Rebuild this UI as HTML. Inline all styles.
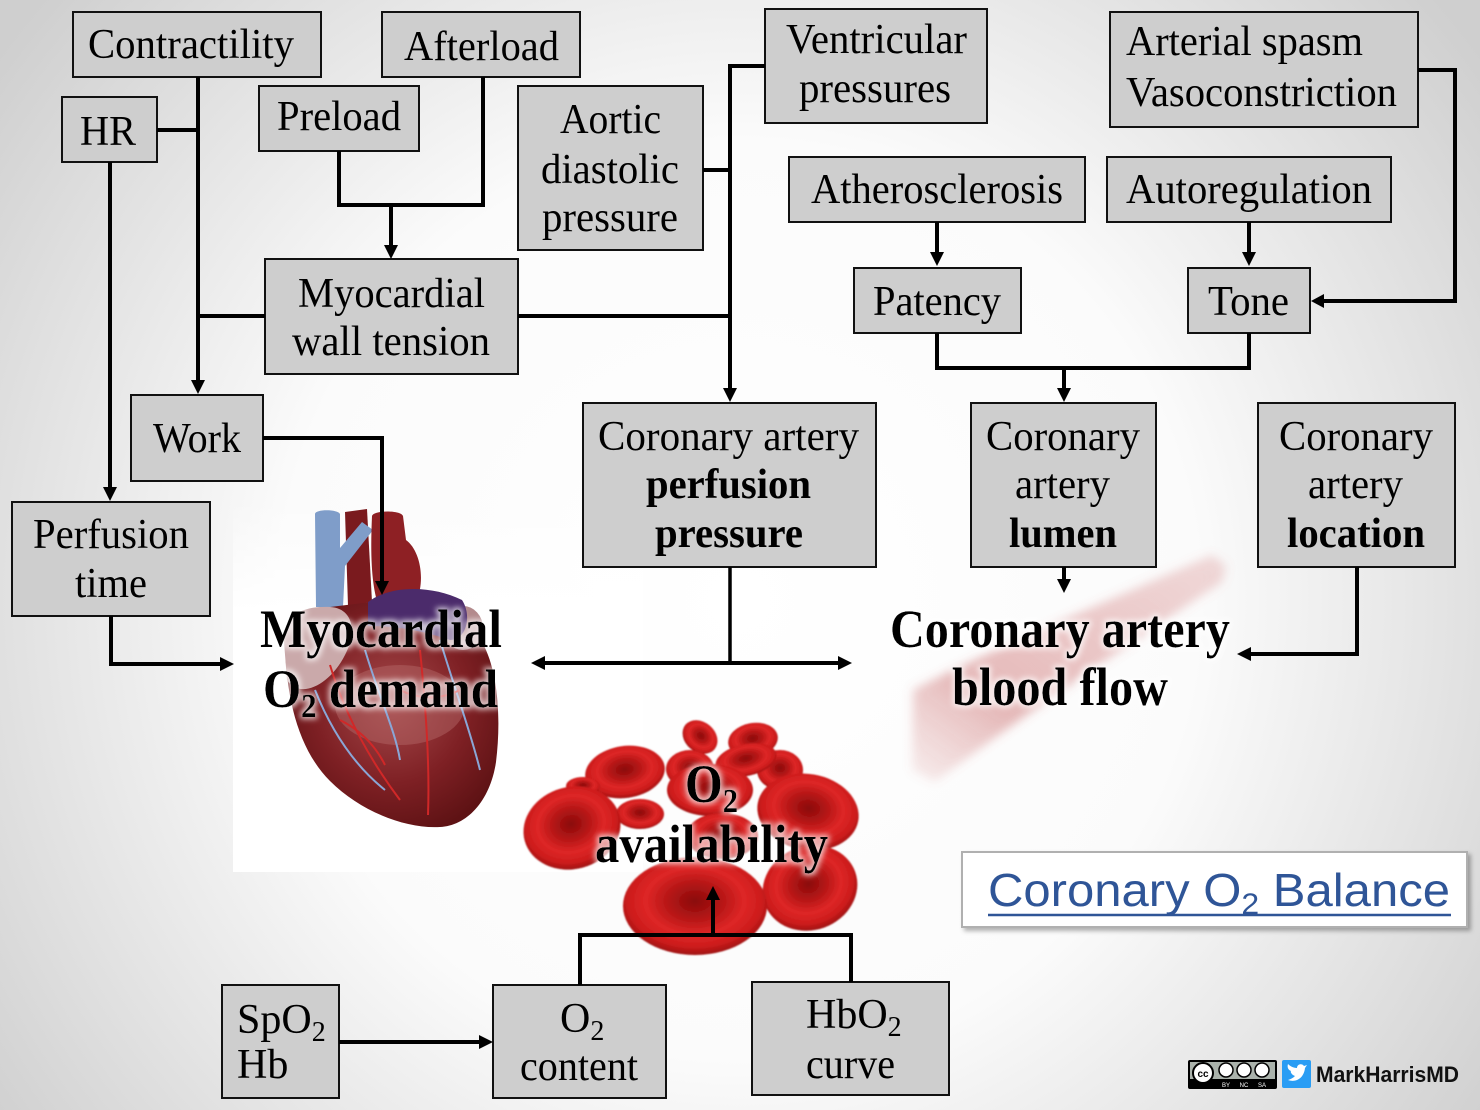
<!DOCTYPE html>
<html><head><meta charset="utf-8"><style>
html,body{margin:0;padding:0;background:#fff;}
svg{display:block;}
.bx{fill:#cecece;stroke:#111;stroke-width:2;}
.t{font-family:"Liberation Serif",serif;font-size:42px;fill:#000;}
.tb{font-family:"Liberation Serif",serif;font-size:42px;font-weight:bold;fill:#000;}
.big{font-family:"Liberation Serif",serif;font-size:54px;font-weight:bold;fill:#000;}
.ln{fill:none;stroke:#000;stroke-width:4;stroke-linejoin:miter;}
</style></head><body>
<svg width="1480" height="1110" viewBox="0 0 1480 1110" xmlns="http://www.w3.org/2000/svg">
<defs>
<radialGradient id="bg" cx="740" cy="600" r="920" gradientUnits="userSpaceOnUse">
<stop offset="0" stop-color="#ffffff"/><stop offset="0.5" stop-color="#fbfbfb"/><stop offset="1" stop-color="#cfcfcf"/>
</radialGradient>
<radialGradient id="rbc" cx="50%" cy="45%" r="55%">
<stop offset="0" stop-color="#8a0c0c"/><stop offset="0.3" stop-color="#b01414"/><stop offset="0.62" stop-color="#de2626"/><stop offset="0.85" stop-color="#cc1c1c"/><stop offset="1" stop-color="#9e1010"/>
</radialGradient>
<radialGradient id="hrt" cx="50%" cy="45%" r="60%">
<stop offset="0" stop-color="#a64a4c"/><stop offset="0.6" stop-color="#7e2024"/><stop offset="1" stop-color="#5e1214"/>
</radialGradient>
<linearGradient id="art" x1="0" y1="1" x2="1" y2="0">
<stop offset="0" stop-color="#c86a6a" stop-opacity="0.1"/><stop offset="0.3" stop-color="#c45a5a" stop-opacity="0.42"/><stop offset="1" stop-color="#d07070" stop-opacity="0.25"/>
</linearGradient>
<linearGradient id="wfade" x1="0" y1="0" x2="0" y2="1">
<stop offset="0" stop-color="#fff" stop-opacity="0"/><stop offset="0.3" stop-color="#fff" stop-opacity="1"/><stop offset="1" stop-color="#fff" stop-opacity="1"/>
</linearGradient>
<filter id="blur4"><feGaussianBlur stdDeviation="5"/></filter>
<filter id="blur1"><feGaussianBlur stdDeviation="0.8"/></filter>
<filter id="glow" x="-10%" y="-30%" width="120%" height="160%">
<feMorphology in="SourceAlpha" operator="dilate" radius="2" result="d"/>
<feGaussianBlur in="d" stdDeviation="3" result="b"/>
<feFlood flood-color="#ffffff" flood-opacity="0.75"/>
<feComposite in2="b" operator="in" result="w"/>
<feMerge><feMergeNode in="w"/><feMergeNode in="SourceGraphic"/></feMerge>
</filter>
<filter id="shd" x="-5%" y="-10%" width="115%" height="130%">
<feGaussianBlur in="SourceAlpha" stdDeviation="2"/><feOffset dx="3" dy="3" result="o"/>
<feFlood flood-color="#000" flood-opacity="0.3"/><feComposite in2="o" operator="in" result="s"/>
<feMerge><feMergeNode in="s"/><feMergeNode in="SourceGraphic"/></feMerge>
</filter>
</defs>

<rect x="0" y="0" width="1480" height="1110" fill="url(#bg)"/>
<rect x="233" y="500" width="410" height="372" fill="url(#wfade)"/>

<!-- artery -->
<g filter="url(#blur4)">
<path d="M1212,555 L1226,566 L1222,582 C1150,630 1060,690 985,745 L935,782 L912,770 L913,690 C990,650 1110,600 1212,555 Z" fill="url(#art)"/>
</g>

<!-- heart -->
<g>
<path d="M345,512 L367,509 L372,602 L348,606 Z" fill="#7a1a1e"/>
<path d="M315,514 C315,509 338,509 340,514 L340,548 L362,522 L373,530 L345,566 L343,607 L316,607 Z" fill="#7f9dc9"/>
<path d="M372,516 C374,510 401,510 403,516 L406,540 C420,550 426,580 416,602 L380,610 C372,590 370,560 372,516 Z" fill="#8e2024"/>
<path d="M285,642 C282,620 300,606 330,607 L380,601 C420,596 462,610 482,642 C499,672 501,722 496,762 C490,802 466,826 440,827 C405,829 360,811 330,781 C300,751 286,702 285,642 Z" fill="url(#hrt)"/>
<path d="M284,642 C284,616 300,606 330,607 C352,608 358,630 345,655 C330,685 300,700 287,680 Z" fill="#caa9aa"/>
<ellipse cx="463" cy="628" rx="20" ry="22" fill="#b38a8c"/>
<path d="M368,602 C390,585 432,585 462,600 C472,615 467,640 450,640 C420,630 396,626 368,626 Z" fill="#4b2b6b"/>
<ellipse cx="400" cy="705" rx="65" ry="40" fill="#b56a6a" opacity="0.45"/>
<g fill="none" stroke-width="2">
<path d="M330,665 C345,715 370,760 400,800" stroke="#d02828"/>
<path d="M420,650 C425,700 430,760 428,815" stroke="#d02828"/>
<path d="M440,640 C455,690 470,730 480,770" stroke="#8aa6d6"/>
<path d="M315,690 C335,740 360,770 385,790" stroke="#8aa6d6"/>
<path d="M365,650 C380,700 395,730 400,760" stroke="#8aa6d6"/>
<path d="M400,690 C420,700 440,700 460,690" stroke="#d02828"/>
<path d="M340,720 C360,730 375,745 385,765" stroke="#d02828"/>
</g>
</g>

<!-- blood cells -->
<g filter="url(#blur1)">
<ellipse cx="700" cy="737" rx="19" ry="15" fill="url(#rbc)" transform="rotate(40 700 737)"/>
<ellipse cx="753" cy="740" rx="25" ry="17" fill="url(#rbc)" transform="rotate(-10 753 740)"/>
<ellipse cx="780" cy="770" rx="23" ry="20" fill="url(#rbc)"/>
<ellipse cx="690" cy="769" rx="24" ry="19" fill="url(#rbc)"/>
<ellipse cx="746" cy="760" rx="31" ry="16" fill="url(#rbc)" transform="rotate(-12 746 760)"/>
<ellipse cx="625" cy="772" rx="40" ry="26" fill="url(#rbc)" transform="rotate(-8 625 772)"/>
<ellipse cx="583" cy="786" rx="17" ry="9" fill="url(#rbc)"/>
<ellipse cx="710" cy="790" rx="43" ry="26" fill="url(#rbc)"/>
<ellipse cx="640" cy="814" rx="24" ry="15" fill="url(#rbc)"/>
<ellipse cx="572" cy="828" rx="49" ry="41" fill="url(#rbc)" transform="rotate(-15 572 828)"/>
<ellipse cx="722" cy="836" rx="36" ry="23" fill="url(#rbc)"/>
<ellipse cx="808" cy="812" rx="51" ry="38" fill="url(#rbc)" transform="rotate(10 808 812)"/>
<ellipse cx="810" cy="888" rx="48" ry="42" fill="url(#rbc)" transform="rotate(-20 810 888)"/>
<ellipse cx="695" cy="906" rx="72" ry="49" fill="url(#rbc)"/>
</g>

<!-- boxes -->
<rect class="bx" x="73" y="12" width="248" height="65"/>
<rect class="bx" x="382" y="12" width="198" height="65"/>
<rect class="bx" x="62" y="97" width="95" height="65"/>
<rect class="bx" x="259" y="86" width="160" height="65"/>
<rect class="bx" x="518" y="86" width="185" height="164"/>
<rect class="bx" x="765" y="9" width="222" height="114"/>
<rect class="bx" x="1110" y="12" width="308" height="115"/>
<rect class="bx" x="789" y="157" width="296" height="65"/>
<rect class="bx" x="1107" y="157" width="284" height="65"/>
<rect class="bx" x="265" y="259" width="253" height="115"/>
<rect class="bx" x="854" y="268" width="167" height="65"/>
<rect class="bx" x="1188" y="268" width="122" height="65"/>
<rect class="bx" x="131" y="395" width="132" height="86"/>
<rect class="bx" x="583" y="403" width="293" height="164"/>
<rect class="bx" x="971" y="403" width="185" height="164"/>
<rect class="bx" x="1258" y="403" width="197" height="164"/>
<rect class="bx" x="12" y="502" width="198" height="114"/>
<rect class="bx" x="222" y="985" width="117" height="113"/>
<rect class="bx" x="493" y="985" width="173" height="113"/>
<rect class="bx" x="752" y="982" width="197" height="113"/>

<!-- connectors -->
<path class="ln" d="M198,77 V381"/>
<polygon points="191,380 205,380 198,394"/>
<path class="ln" d="M157,130 H198"/>
<path class="ln" d="M198,316 H265"/>
<path class="ln" d="M110,162 V488"/>
<polygon points="103,487 117,487 110,501"/>
<path class="ln" d="M339,151 V205 H483 V77"/>
<path class="ln" d="M391,205 V246"/>
<polygon points="384,245 398,245 391,259"/>
<path class="ln" d="M765,66 H730 V389"/>
<polygon points="723,388 737,388 730,402"/>
<path class="ln" d="M703,170 H730"/>
<path class="ln" d="M518,316 H730"/>
<path class="ln" d="M1418,70 H1455 V301 H1323"/>
<polygon points="1324,294 1324,308 1311,301"/>
<path class="ln" d="M937,222 V253"/>
<polygon points="930,252 944,252 937,266"/>
<path class="ln" d="M1249,222 V253"/>
<polygon points="1242,252 1256,252 1249,266"/>
<path class="ln" d="M937,333 V368 H1249 V333"/>
<path class="ln" d="M1064,368 V389"/>
<polygon points="1057,388 1071,388 1064,402"/>
<path class="ln" d="M263,438 H382 V582"/>
<polygon points="375,581 389,581 382,595"/>
<path class="ln" d="M111,616 V664 H221"/>
<polygon points="220,657 220,671 234,664"/>
<path class="ln" d="M730,567 V663" style="stroke-width:3.5"/>
<path class="ln" d="M544,663 H839"/>
<polygon points="545,656 545,670 531,663"/>
<polygon points="838,656 838,670 852,663"/>
<path class="ln" d="M1064,567 V580"/>
<polygon points="1057,579 1071,579 1064,593"/>
<path class="ln" d="M1357,567 V654 H1250"/>
<polygon points="1251,647 1251,661 1237,654"/>
<path class="ln" d="M580,985 V935 H851 V982"/>
<path class="ln" d="M713,935 V898"/>
<polygon points="706,900 720,900 713,886"/>
<path class="ln" d="M339,1042 H480"/>
<polygon points="479,1035 479,1049 493,1042"/>

<!-- box text -->
<text class="t" x="88" y="58" textLength="206" lengthAdjust="spacingAndGlyphs">Contractility</text>
<text class="t" x="404" y="60" textLength="155" lengthAdjust="spacingAndGlyphs">Afterload</text>
<text class="t" x="80" y="145" textLength="56" lengthAdjust="spacingAndGlyphs">HR</text>
<text class="t" x="277" y="130" textLength="124" lengthAdjust="spacingAndGlyphs">Preload</text>
<text class="t" x="560" y="133" textLength="101" lengthAdjust="spacingAndGlyphs">Aortic</text>
<text class="t" x="541" y="183" textLength="138" lengthAdjust="spacingAndGlyphs">diastolic</text>
<text class="t" x="542" y="231" textLength="136" lengthAdjust="spacingAndGlyphs">pressure</text>
<text class="t" x="786" y="53" textLength="181" lengthAdjust="spacingAndGlyphs">Ventricular</text>
<text class="t" x="799" y="102" textLength="152" lengthAdjust="spacingAndGlyphs">pressures</text>
<text class="t" x="1126" y="55" textLength="237" lengthAdjust="spacingAndGlyphs">Arterial spasm</text>
<text class="t" x="1126" y="106" textLength="271" lengthAdjust="spacingAndGlyphs">Vasoconstriction</text>
<text class="t" x="811" y="203" textLength="252" lengthAdjust="spacingAndGlyphs">Atherosclerosis</text>
<text class="t" x="1126" y="203" textLength="246" lengthAdjust="spacingAndGlyphs">Autoregulation</text>
<text class="t" x="298" y="307" textLength="187" lengthAdjust="spacingAndGlyphs">Myocardial</text>
<text class="t" x="292" y="355" textLength="198" lengthAdjust="spacingAndGlyphs">wall tension</text>
<text class="t" x="873" y="315" textLength="128" lengthAdjust="spacingAndGlyphs">Patency</text>
<text class="t" x="1208" y="315" textLength="81" lengthAdjust="spacingAndGlyphs">Tone</text>
<text class="t" x="153" y="452" textLength="88" lengthAdjust="spacingAndGlyphs">Work</text>
<text class="t" x="598" y="450" textLength="261" lengthAdjust="spacingAndGlyphs">Coronary artery</text>
<text class="tb" x="646" y="498" textLength="165" lengthAdjust="spacingAndGlyphs">perfusion</text>
<text class="tb" x="655" y="547" textLength="148" lengthAdjust="spacingAndGlyphs">pressure</text>
<text class="t" x="986" y="450" textLength="154" lengthAdjust="spacingAndGlyphs">Coronary</text>
<text class="t" x="1015" y="498" textLength="95" lengthAdjust="spacingAndGlyphs">artery</text>
<text class="tb" x="1009" y="547" textLength="108" lengthAdjust="spacingAndGlyphs">lumen</text>
<text class="t" x="1279" y="450" textLength="154" lengthAdjust="spacingAndGlyphs">Coronary</text>
<text class="t" x="1308" y="498" textLength="95" lengthAdjust="spacingAndGlyphs">artery</text>
<text class="tb" x="1287" y="547" textLength="138" lengthAdjust="spacingAndGlyphs">location</text>
<text class="t" x="33" y="548" textLength="156" lengthAdjust="spacingAndGlyphs">Perfusion</text>
<text class="t" x="75" y="597" textLength="72" lengthAdjust="spacingAndGlyphs">time</text>
<text class="t" x="237" y="1033">SpO<tspan font-size="28" dy="8">2</tspan></text>
<text class="t" x="237" y="1078">Hb</text>
<text class="t" x="560" y="1032">O<tspan font-size="28" dy="8">2</tspan></text>
<text class="t" x="520" y="1080" textLength="118" lengthAdjust="spacingAndGlyphs">content</text>
<text class="t" x="806" y="1028">HbO<tspan font-size="28" dy="8">2</tspan></text>
<text class="t" x="806" y="1078" textLength="89" lengthAdjust="spacingAndGlyphs">curve</text>

<!-- big labels -->
<g filter="url(#glow)">
<text class="big" x="260" y="647" textLength="242" lengthAdjust="spacingAndGlyphs">Myocardial</text>
<text class="big" x="263" y="707" textLength="235" lengthAdjust="spacingAndGlyphs">O<tspan font-size="34" dy="10">2</tspan><tspan dy="-10"> demand</tspan></text>
<text class="big" x="890" y="647" textLength="340" lengthAdjust="spacingAndGlyphs">Coronary artery</text>
<text class="big" x="952" y="705" textLength="216" lengthAdjust="spacingAndGlyphs">blood flow</text>
<text class="big" x="685" y="802" textLength="53" lengthAdjust="spacingAndGlyphs">O<tspan font-size="34" dy="10">2</tspan></text>
<text class="big" x="595" y="862" textLength="233" lengthAdjust="spacingAndGlyphs">availability</text>
</g>

<!-- link box -->
<rect x="962" y="852" width="505" height="75" fill="#ffffff" stroke="#b0b0b0" stroke-width="2" filter="url(#shd)"/>
<text x="988" y="906" font-family="Liberation Sans, Arial, sans-serif" font-size="46" fill="#2f5597" textLength="462" lengthAdjust="spacingAndGlyphs">Coronary O<tspan font-size="30" dy="8">2</tspan><tspan dy="-8"> Balance</tspan></text>
<line x1="988" y1="915" x2="1451" y2="915" stroke="#2f5597" stroke-width="2.5"/>

<!-- CC badge -->
<rect x="1188" y="1060" width="89" height="29" fill="#000" rx="2"/>
<rect x="1190" y="1062" width="85" height="17" fill="#aab2ab"/>
<circle cx="1203" cy="1073" r="10" fill="#fff" stroke="#000" stroke-width="2"/>
<text x="1203" y="1077" font-family="Liberation Sans, sans-serif" font-size="10" font-weight="bold" text-anchor="middle">cc</text>
<circle cx="1226" cy="1070" r="7" fill="#fff" stroke="#000" stroke-width="1.5"/>
<circle cx="1244" cy="1070" r="7" fill="#fff" stroke="#000" stroke-width="1.5"/>
<circle cx="1262" cy="1070" r="7" fill="#fff" stroke="#000" stroke-width="1.5"/>
<text x="1226" y="1087" font-family="Liberation Sans, sans-serif" font-size="6" fill="#fff" text-anchor="middle">BY</text>
<text x="1244" y="1087" font-family="Liberation Sans, sans-serif" font-size="6" fill="#fff" text-anchor="middle">NC</text>
<text x="1262" y="1087" font-family="Liberation Sans, sans-serif" font-size="6" fill="#fff" text-anchor="middle">SA</text>
<rect x="1282" y="1060" width="29" height="28" fill="#2a9df4" rx="2"/>
<path d="M1288,1080 C1296,1083 1304,1078 1305,1068 L1307,1065 L1304,1066 C1302,1063 1297,1064 1297,1068 C1293,1068 1290,1066 1288,1064 C1287,1067 1288,1070 1291,1071 C1290,1072 1292,1075 1295,1076 C1293,1078 1291,1079 1288,1080 Z" fill="#fff"/>
<text x="1316" y="1082" font-family="Liberation Sans, Arial, sans-serif" font-size="22" font-weight="bold" fill="#111" textLength="143" lengthAdjust="spacingAndGlyphs">MarkHarrisMD</text>
</svg>
</body></html>
